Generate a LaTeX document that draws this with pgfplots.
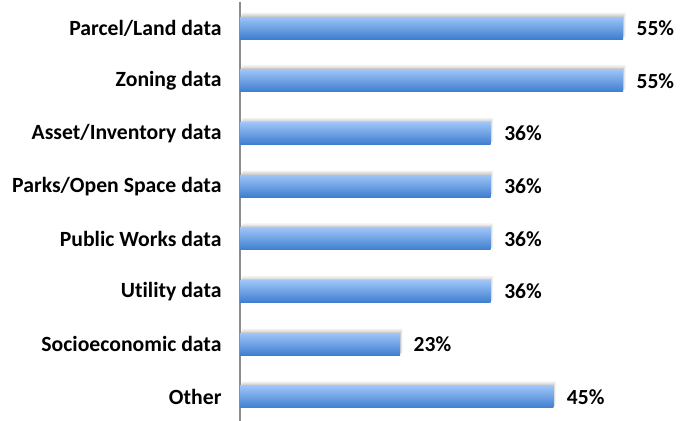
\documentclass[border=0pt]{standalone}
\usepackage{pgfplots}
\pgfplotsset{compat=1.18}
\usepackage{fontspec}
\setmainfont{Carlito}[Ligatures=NoCommon]
\definecolor{bartop}{HTML}{9EC4F8}
\definecolor{barbot}{HTML}{3E7ECE}
\definecolor{axisgray}{HTML}{8C8C8C}
\pgfplotstableread{
val cat
55 0
55 1
36 2
36 3
36 4
36 5
23 6
45 7
}\datatable
\begin{document}
\begin{tikzpicture}
\path[use as bounding box] (-240bp,2.4bp) rectangle (447bp,423.35bp);
\begin{axis}[
  at={(0,0)}, anchor=south west,
  scale only axis,
  width=420bp, height=421.7bp,
  xmin=0, xmax=60.3,
  ymin=-0.5, ymax=7.5,
  y dir=reverse,
  axis x line=none,
  axis y line*=left,
  y axis line style={draw=axisgray, line width=1.2pt, -},
  ytick={0,1,2,3,4,5,6,7},
  yticklabels={Parcel/Land data, Zoning data, Asset/Inventory data, Parks/Open Space data, Public Works data, Utility data, Socioeconomic data, Other},
  major tick length=0pt,
  yticklabel style={font=\fontsize{21.7bp}{23bp}\selectfont\bfseries, xshift=-15bp},
  xbar, bar width=22bp, bar shift=0pt,
  clip=false,
  shadowstyle/.style={draw=none, fill=black, fill opacity=#1},
  barstyle/.style={draw=none, top color=bartop, bottom color=barbot,
    nodes near coords={\pgfmathprintnumber{\pgfplotspointmeta}\%},
    point meta=x,
    every node near coord/.append style={font=\fontsize{21.5bp}{23bp}\selectfont\bfseries, anchor=west, xshift=10bp, /pgf/number format/assume math mode=true}},
]
\addplot[shadowstyle=0.05, bar width=24bp, bar shift=3.5bp, xshift=2.5bp] table[x=val, y=cat] {\datatable};
\addplot[shadowstyle=0.07, bar width=23bp, bar shift=2.5bp, xshift=1.5bp] table[x=val, y=cat] {\datatable};
\addplot[shadowstyle=0.09, bar width=22bp, bar shift=1.5bp, xshift=0.7bp] table[x=val, y=cat] {\datatable};
\addplot[barstyle] coordinates {(55,0)};
\addplot[barstyle] coordinates {(55,1)};
\addplot[barstyle] coordinates {(36,2)};
\addplot[barstyle] coordinates {(36,3)};
\addplot[barstyle] coordinates {(36,4)};
\addplot[barstyle] coordinates {(36,5)};
\addplot[barstyle] coordinates {(23,6)};
\addplot[barstyle] coordinates {(45,7)};
\end{axis}
\end{tikzpicture}
\end{document}
